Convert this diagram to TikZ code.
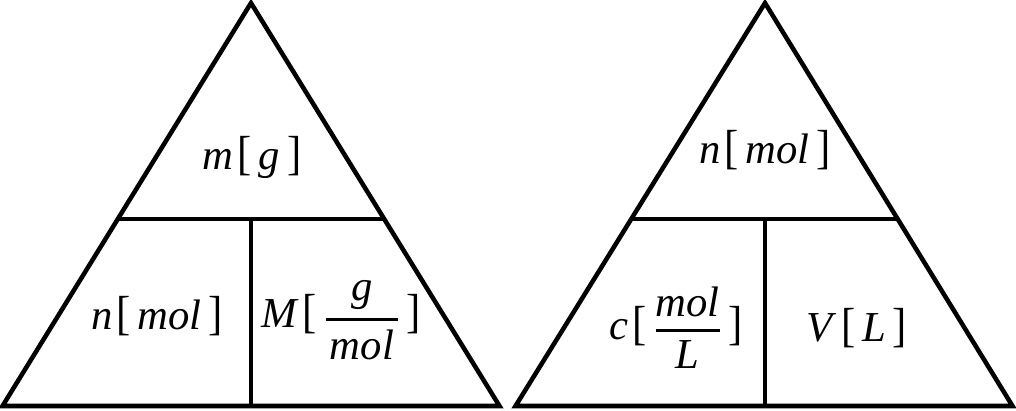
\documentclass[tikz,border=0pt]{standalone}
\usepackage{amsmath}
\usepackage{fontspec}
\setmainfont{Liberation Serif}
\usetikzlibrary{positioning,calc}
\newcommand{\brk}[1]{\hspace{.1em}\textup{\scalebox{1}[1.12]{[}}\hspace{.16em}#1\hspace{.16em}\textup{\scalebox{1}[1.12]{]}}}
\newcommand{\ufrac}[2]{$\genfrac{}{}{2.2pt}{0}{\text{\itshape #1}}{\hspace{.1em}\text{\itshape #2}\hspace{.1em}}$}
\tikzset{edge/.style={line width=3.4pt,line join=miter},
  qty/.style={font=\fontsize{32}{38}\selectfont\itshape,inner sep=0pt}}

\begin{document}
\begin{tikzpicture}[x=.75pt,y=-.75pt]
\useasboundingbox (0,0) rectangle (1016,410);
% left triangle: mass
\coordinate (la) at (251,3);
\coordinate (lb) at (2.5,406);
\coordinate (lc) at (499.5,406);
\coordinate (lm) at (251,219);
\draw[edge] (la) -- (lb) -- (lc) -- cycle;
\draw[edge] ($(la)!0.536!(lb)$) -- ($(la)!0.536!(lc)$);
\draw[edge] (lm) -- (lm|-lb);
\node[qty] (mass) at (252,157) {m\brk{g}};
\node[qty] (moles) at (157,316) {n\brk{mol}};
\node[qty] (molar) at (341,320) {M\brk{\ufrac{g}{mol}}};
% right triangle: concentration
\coordinate (ra) at (765,3);
\coordinate (rb) at (515.5,406);
\coordinate (rc) at (1012.5,406);
\coordinate (rm) at (765,219);
\draw[edge] (ra) -- (rb) -- (rc) -- cycle;
\draw[edge] ($(ra)!0.536!(rb)$) -- ($(ra)!0.536!(rc)$);
\draw[edge] (rm) -- (rm|-rb);
\node[qty] (amount) at (765,150) {n\brk{mol}};
\node[qty] (conc) at (676,328) {c\brk{\ufrac{mol}{L}}};
\node[qty] (vol) at (857,328) {V\brk{L}};
\end{tikzpicture}
\end{document}
